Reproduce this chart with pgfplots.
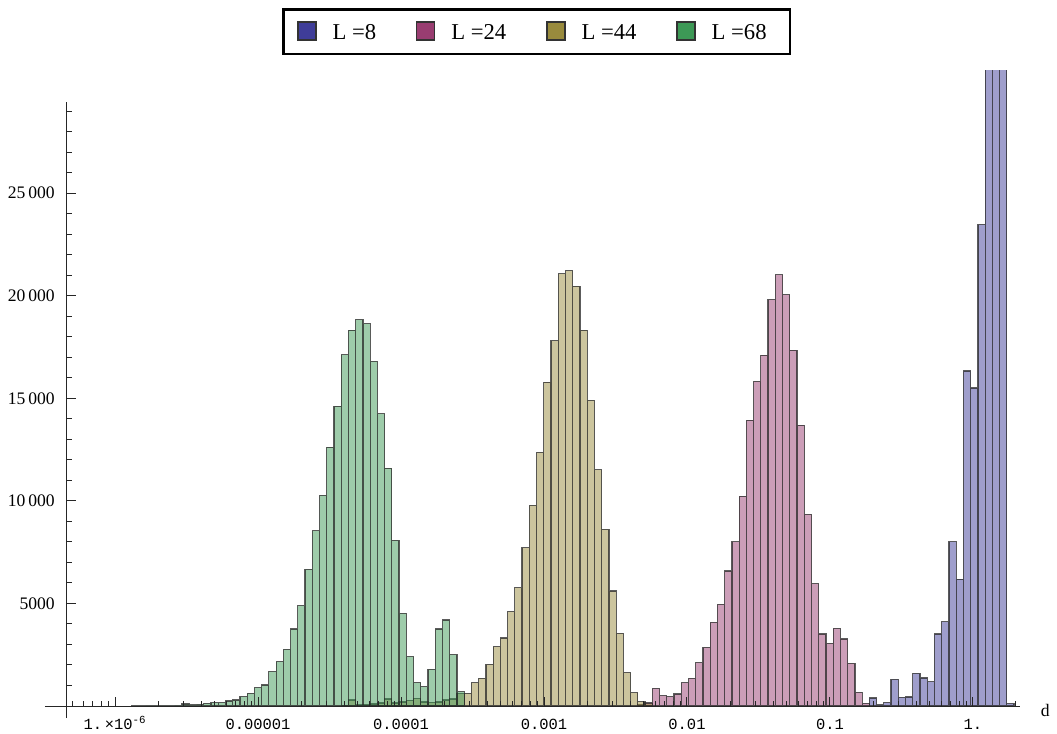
\documentclass[border=0pt]{standalone}
\usepackage{fontspec}
\setmainfont{Liberation Serif}
\newfontfamily\monofont{Liberation Mono}
\usepackage{pgfplots}
\pgfplotsset{compat=1.18}
\usepackage{pgfplotstable}

\definecolor{cBlue}{rgb}{0.2472,0.24,0.6}
\definecolor{cPink}{rgb}{0.6,0.24,0.4429}
\definecolor{cGold}{rgb}{0.6,0.547,0.24}
\definecolor{cGreen}{rgb}{0.24,0.6,0.3369}

% x = log10 of the left bin edge, y = count
\pgfplotstableread{
x y
-5.8856 10
-5.8350 10
-5.7844 15
-5.7338 15
-5.6832 20
-5.6326 20
-5.5820 30
-5.5314 100
-5.4808 60
-5.4302 80
-5.3796 130
-5.3290 165
-5.2784 160
-5.2278 244
-5.1772 292
-5.1266 455
-5.0760 617
-5.0254 893
-4.9748 1023
-4.9242 1673
-4.8736 2160
-4.8230 2761
-4.7724 3751
-4.7218 4888
-4.6712 6658
-4.6206 8542
-4.5700 10264
-4.5194 12618
-4.4688 14616
-4.4182 17117
-4.3676 18319
-4.3170 18838
-4.2664 18643
-4.2158 16792
-4.1652 14243
-4.1146 11595
-4.0640 8071
-4.0134 4515
-3.9628 2403
-3.9122 1137
-3.8616 942
-3.8110 1786
-3.7604 3751
-3.7098 4190
-3.6592 2501
-3.6086 698
-3.5580 0
}\greendata

\pgfplotstableread{
x y
-4.4182 40
-4.3676 290
-4.3170 60
-4.2664 80
-4.2158 100
-4.1652 150
-4.1146 340
-4.0640 150
-4.0134 200
-3.9628 280
-3.9122 370
-3.8616 200
-3.8110 180
-3.7604 200
-3.7098 290
-3.6592 340
-3.6086 600
-3.5580 617
-3.5074 1137
-3.4568 1348
-3.4062 2030
-3.3556 2891
-3.3050 3313
-3.2544 4596
-3.2038 5765
-3.1532 7714
-3.1026 9776
-3.0520 12359
-3.0014 15785
-2.9508 17815
-2.9002 21063
-2.8496 21226
-2.7990 20462
-2.7484 18319
-2.6978 14892
-2.6472 11514
-2.5966 8607
-2.5460 5603
-2.4954 3540
-2.4448 1624
-2.3942 650
-2.3436 211
-2.2930 120
-2.2424 0
}\golddata

\pgfplotstableread{
x y
-2.3436 60
-2.2930 162
-2.2424 861
-2.1918 503
-2.1412 455
-2.0906 585
-2.0400 1137
-1.9894 1348
-1.9388 2111
-1.8882 2858
-1.8376 4076
-1.7870 4953
-1.7364 6577
-1.6858 8006
-1.6352 10231
-1.5846 13934
-1.5340 15818
-1.4834 17101
-1.4328 19813
-1.3822 21014
-1.3316 20056
-1.2810 17344
-1.2304 13690
-1.1798 9338
-1.1292 5960
-1.0786 3508
-1.0280 3053
-0.9774 3784
-0.9268 3264
-0.8762 2079
-0.8256 666
-0.7750 130
-0.7244 0
}\pinkdata

\pgfplotstableread{
x y
-0.7244 390
-0.6738 45
-0.6232 170
-0.5726 1295
-0.5220 415
-0.4714 440
-0.4208 1595
-0.3702 1365
-0.3196 1180
-0.2690 3508
-0.2184 4105
-0.1678 8000
-0.1172 6180
-0.0666 16330
-0.0160 15500
0.0346 23460
0.0852 38000
0.1358 52000
0.1864 44000
0.2370 120
0.2876 0
}\bluedata

\begin{document}
\begin{tikzpicture}
\begin{axis}[
  name=ax,
  at={(0pt,0pt)}, anchor=south west,
  width=714.75pt, height=477pt, scale only axis,
  xmin=-6.336, xmax=0.329, ymin=0, ymax=31000,
  axis x line=bottom, axis y line=left,
  axis line style={-, draw=black!85, line width=0.75pt},
  x axis line style={shorten <=-16.5pt},
  y axis line style={shorten <=-9pt, shorten >=24pt},
  axis on top,
  clip bounding box=upper bound,
  tick align=inside,
  major tick length=7pt, minor tick length=3.5pt,
  tick style={draw=black!85, line width=0.75pt},
  xtick={-6,-5,-4,-3,-2,-1,0},
  xticklabels={{1.\,×10\textsuperscript{-6}},0.00001,0.0001,0.001,0.01,0.1,1.},
  minor xtick={-6.301,-6.2218,-6.1549,-6.0969,-6.0458,
    -5.699,-5.5229,-5.3979,-5.301,-5.2218,-5.1549,-5.0969,-5.0458,
    -4.699,-4.5229,-4.3979,-4.301,-4.2218,-4.1549,-4.0969,-4.0458,
    -3.699,-3.5229,-3.3979,-3.301,-3.2218,-3.1549,-3.0969,-3.0458,
    -2.699,-2.5229,-2.3979,-2.301,-2.2218,-2.1549,-2.0969,-2.0458,
    -1.699,-1.5229,-1.3979,-1.301,-1.2218,-1.1549,-1.0969,-1.0458,
    -0.699,-0.5229,-0.3979,-0.301,-0.2218,-0.1549,-0.0969,-0.0458,
    0.301},
  xticklabel style={font=\monofont\fontsize{11.6}{13}\selectfont, anchor=north, inner sep=0pt, text height=7.6pt, text depth=0pt, yshift=-9.75pt},
  ytick={5000,10000,15000,20000,25000},
  minor ytick={1000,2000,...,29000},
  scaled y ticks=false,
  /pgf/number format/1000 sep={\,},
  /pgf/number format/min exponent for 1000 sep=4,
  /pgf/number format/assume math mode=true,
  yticklabel style={font=\fontsize{13.2}{15}\selectfont, inner sep=0pt, anchor=east, xshift=-9pt},
  xlabel={d},
  x label style={at={(axis description cs:1,0)}, anchor=west, inner sep=0pt, xshift=15.5pt, yshift=-3.5pt, font=\fontsize{13.2}{15}\selectfont},
  legend columns=4,
  legend style={at={(0.2256,1.0975)}, anchor=north west, draw=black, line width=2pt,
    inner xsep=10.5pt, inner ysep=9pt, font=\fontsize{17}{17}\selectfont,
    column sep=0pt, nodes={inner sep=0pt},
    /tikz/every odd column/.style={column sep=12pt},
    /tikz/every even column/.style={column sep=30pt}},
  legend image code/.code={\draw[#1, line width=0.9pt, draw=black!80] (0pt,-4.95pt) rectangle (13.5pt,8.55pt);},
]
\addplot[forget plot, ybar interval, fill=cBlue, fill opacity=0.5, draw=black!85, draw opacity=0.75, line width=0.9pt] table[x=x,y=y] {\bluedata};
\addplot[forget plot, ybar interval, fill=cPink, fill opacity=0.5, draw=black!85, draw opacity=0.75, line width=0.9pt] table[x=x,y=y] {\pinkdata};
\addplot[forget plot, ybar interval, fill=cGold, fill opacity=0.5, draw=black!85, draw opacity=0.75, line width=0.9pt] table[x=x,y=y] {\golddata};
\addplot[forget plot, ybar interval, fill=cGreen, fill opacity=0.5, draw=black!85, draw opacity=0.75, line width=0.9pt] table[x=x,y=y] {\greendata};
\addlegendimage{fill=cBlue}
\addlegendentry{L =8}
\addlegendimage{fill=cPink}
\addlegendentry{L =24}
\addlegendimage{fill=cGold}
\addlegendentry{L =44}
\addlegendimage{fill=cGreen}
\addlegendentry{L =68\hspace*{7pt}}
\end{axis}
\path ([xshift=-50.25pt,yshift=-20.25pt]ax.south west) rectangle ([xshift=742.5pt,yshift=529.5pt]ax.south west);
\end{tikzpicture}
\end{document}
